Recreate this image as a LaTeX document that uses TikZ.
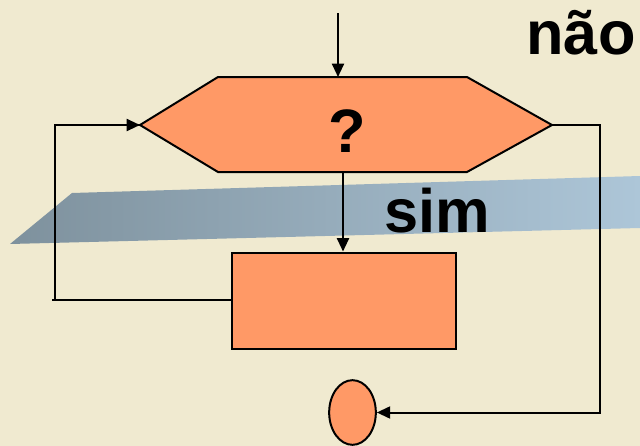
\documentclass[tikz,border=0pt]{standalone}
\usepackage{fontspec}
\setmainfont{Liberation Sans}
\usetikzlibrary{arrows.meta,shapes.geometric}
\definecolor{fundo}{HTML}{F0EAD0}
\definecolor{laranja}{HTML}{FF9966}
\definecolor{faixaA}{HTML}{7E919D}
\definecolor{faixaB}{HTML}{ADC6D8}
\tikzset{
  caixa/.style={draw,line width=1.5pt,fill=laranja},
  seta/.style={line width=1.5pt,-{Triangle[length=10pt,width=9pt]}},
  linha/.style={line width=1.5pt},
  rotulo/.style={font=\fontsize{46}{46}\bfseries\selectfont,inner sep=0pt,anchor=base}
}
\begin{document}
\begin{tikzpicture}[x=0.75pt,y=-0.75pt,line join=miter]
	\fill[fundo] (0,0) rectangle (640,446);
	\useasboundingbox (0,0) rectangle (640,446);
	% faixa azul
	\shade[left color=faixaA,right color=faixaB] (10,244)--(72,193)--(640,176)--(640,228)--cycle;
	% losango de decisao
	\coordinate (hw) at (140,125); \coordinate (he) at (552,125);
	\coordinate (hn) at (338,77); \coordinate (hs) at (343,172);
	\draw[caixa] (hw)--(218,77)--(467,77)--(he)--(467,172)--(218,172)--cycle;
	\node[rotulo] (q) at (347,152) {?};
	\node[caixa,minimum width=168pt,minimum height=72pt,inner sep=0pt] (bloco) at (344,300.5) {};
	\node[caixa,ellipse,minimum width=35pt,minimum height=48.5pt,inner sep=0pt] (fim) at (352.5,412.5) {};
	\node[rotulo] (nao) at (581,55) {não};
	\node[rotulo] (sim) at (437,232) {sim};
	\coordinate (topo) at (338,13);
	\coordinate (volta) at (52,300);
	% ligacoes
	\draw[seta] (topo)--(hn);
	\draw[seta] (hs)--(bloco.north-|hs);
	\draw[linha] (bloco.west|-volta)--(volta)--(55,300)--(55,125)--(hw);
	\draw[seta] (55,125)--(hw);
	\draw[seta] (he)--(600,125)--(600,412.5)--(fim.east);
\end{tikzpicture}
\end{document}
